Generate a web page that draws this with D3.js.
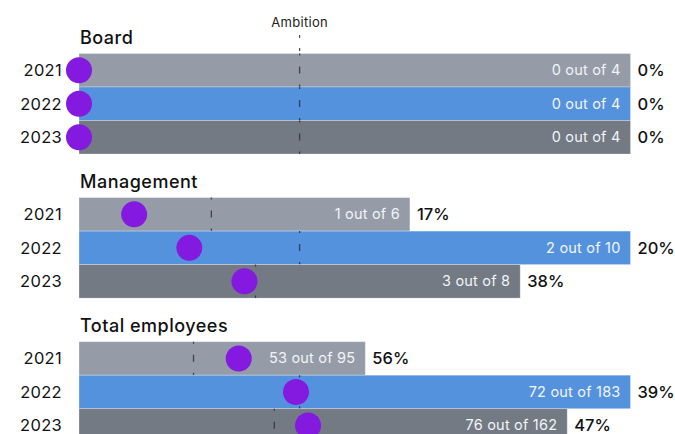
<!DOCTYPE html>
<html>
<head>
<meta charset="utf-8">
<script src="https://cdn.jsdelivr.net/npm/d3@7"></script>
<style>
  html, body { margin: 0; padding: 0; background: #ffffff; }
  svg { display: block; font-family: "Inter", "Open Sans", sans-serif; }
</style>
</head>
<body>
<svg id="chart" width="675" height="434"></svg>
<script>
// Women represented per body and year, with the headcount of each body
const groups = ["Board", "Management", "Total employees"];
const years = ["2021", "2022", "2023"];
const women = [
  [0, 0, 0],
  [1, 2, 3],
  [53, 72, 76]
];
const totals = [
  [4, 4, 4],
  [6, 10, 8],
  [95, 183, 162]
];
const ambitionShare = 0.4;
const ambitionLabel = "Ambition";

const yearColors = ["#959ca7", "#5592dd", "#737a83"];
const dotColor = "#8419e0";

const svg = d3.select("#chart");

const xLeft = 79, xRight = 630.5;
const barBlock = 100.5;

const groupTop = d3.scalePoint().domain(groups).range([53.5, 341.7]);
const yearBand = d3.scaleBand().domain(years).range([0, barBlock]);

const pct = d3.format(".0%");

groups.forEach((g, gi) => {
  const x = d3.scaleLinear()
    .domain([0, d3.max(totals[gi])])
    .range([xLeft, xRight]);
  const top = groupTop(g);
  const grp = svg.append("g").attr("transform", `translate(0,${top})`);

  grp.append("text")
    .attr("x", 80).attr("y", -10)
    .attr("font-size", 18).attr("font-weight", 500)
    .attr("letter-spacing", 0.5)
    .attr("fill", "#111")
    .text(g);

  const rows = years.map((yr, yi) => ({
    year: yr, w: women[gi][yi], n: totals[gi][yi], color: yearColors[yi]
  }));

  const row = grp.selectAll("g.row").data(rows).join("g")
    .attr("class", "row")
    .attr("transform", d => `translate(0,${yearBand(d.year)})`);

  const h = yearBand.bandwidth();

  row.append("rect")
    .attr("x", x(0)).attr("y", 0)
    .attr("width", d => x(d.n) - x(0))
    .attr("height", h)
    .attr("fill", d => d.color)
    .attr("stroke", "#ffffff").attr("stroke-opacity", 0.35).attr("stroke-width", 0.8);

  row.append("text")
    .attr("x", 62).attr("y", h / 2 + 6)
    .attr("text-anchor", "end")
    .attr("font-size", 16.5).attr("letter-spacing", 0.3).attr("fill", "#111")
    .text(d => d.year);

  row.append("line")
    .attr("x1", d => x(d.n * ambitionShare)).attr("x2", d => x(d.n * ambitionShare))
    .attr("y1", 0).attr("y2", h)
    .attr("stroke", "#2a2d33").attr("stroke-opacity", 0.8)
    .attr("stroke-width", 1.3)
    .attr("stroke-dasharray", "7 11").attr("stroke-dashoffset", 5);

  row.append("circle")
    .attr("cx", d => x(d.w)).attr("cy", h / 2)
    .attr("r", 13)
    .attr("fill", dotColor);

  row.append("text")
    .attr("x", d => x(d.n) - 10).attr("y", h / 2 + 5)
    .attr("text-anchor", "end")
    .attr("font-size", 14.5).attr("letter-spacing", 0.2).attr("fill", "#f2f4f7")
    .text(d => `${d.w} out of ${d.n}`);

  row.append("text")
    .attr("x", d => x(d.n) + 7).attr("y", h / 2 + 6)
    .attr("font-size", 16.5).attr("font-weight", 500).attr("fill", "#111")
    .text(d => pct(d.w / d.n));

  if (gi === 0) {
    const ax = x(totals[0][0] * ambitionShare);
    svg.append("text")
      .attr("x", ax).attr("y", 27)
      .attr("text-anchor", "middle")
      .attr("font-size", 13).attr("letter-spacing", 0.3).attr("fill", "#222")
      .text(ambitionLabel);
    svg.append("line")
      .attr("x1", ax).attr("x2", ax)
      .attr("y1", 35).attr("y2", top)
      .attr("stroke", "#2a2d33").attr("stroke-opacity", 0.8)
      .attr("stroke-width", 1.3)
      .attr("stroke-dasharray", "3 10");
  }
});
</script>
</body>
</html>
